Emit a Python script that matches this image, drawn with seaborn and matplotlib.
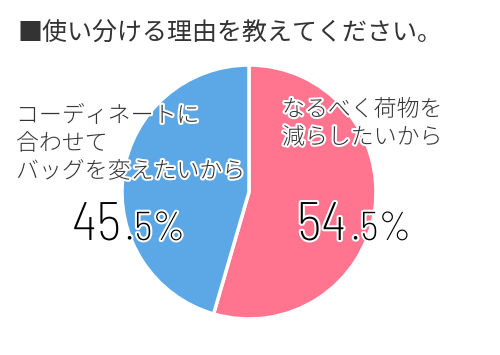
import matplotlib
matplotlib.use("Agg")
import matplotlib.pyplot as plt
import matplotlib.patheffects as pe
import seaborn as sns

sns.set_theme(style="white")
plt.rcParams['font.family'] = ['Noto Sans CJK JP', 'DejaVu Sans']

title = "■使い分ける理由を教えてください。"
categories = ["なるべく荷物を\n減らしたいから", "コーディネートに\n合わせて\nバッグを変えたいから"]
values = [54.5, 45.5]
int_parts = ["54", "45"]
dec_parts = [".5%", ".5%"]
colors = ["#FF7590", "#5CA8E6"]

W, H = 500, 355
fig = plt.figure(figsize=(W / 100, H / 100), dpi=100)
fig.patch.set_facecolor("white")

cx, cy, r = 249, 192, 127
ax = fig.add_axes([(cx - r) / W, (H - cy - r) / H, 2 * r / W, 2 * r / H])
ax.pie(values, colors=colors, startangle=90, counterclock=False, radius=1,
       wedgeprops=dict(edgecolor="white", linewidth=2.5))
ax.set_xlim(-1, 1)
ax.set_ylim(-1, 1)
ax.set_aspect("equal")
ax.axis("off")

def px(x, y):
    return x / W, 1 - y / H

stroke = [pe.withStroke(linewidth=3, foreground="white")]
nstroke = [pe.withStroke(linewidth=3, foreground="white")]
txtc = "#333333"

fig.text(*px(17, 41), title, fontsize=18, color=txtc, ha="left", va="baseline")

# labels
fig.text(*px(282, 144), categories[0], fontsize=16.5, color=txtc, ha="left", va="baseline",
         linespacing=1.15, fontweight=300, path_effects=stroke)
fig.text(*px(16, 178), categories[1], fontsize=16.5, color=txtc, ha="left", va="baseline",
         linespacing=1.15, fontweight=300, path_effects=stroke)

numfont = ['Barlow Semi Condensed', 'Barlow Condensed', 'Roboto', 'DejaVu Sans']
big, small = 39, 29
nw = 275
# percentages
fig.text(*px(297, 240), int_parts[0], fontsize=big, color="black", ha="left", va="baseline",
         family=numfont, fontweight=nw, path_effects=nstroke)
fig.text(*px(351, 240), dec_parts[0], fontsize=small, color="black", ha="left", va="baseline",
         family=numfont, fontweight=nw, path_effects=nstroke)
fig.text(*px(72, 240), int_parts[1], fontsize=big, color="black", ha="left", va="baseline",
         family=numfont, fontweight=nw, path_effects=nstroke)
fig.text(*px(125, 240), dec_parts[1], fontsize=small, color="black", ha="left", va="baseline",
         family=numfont, fontweight=nw, path_effects=nstroke)

fig.savefig("out.png", dpi=100, facecolor="white")
